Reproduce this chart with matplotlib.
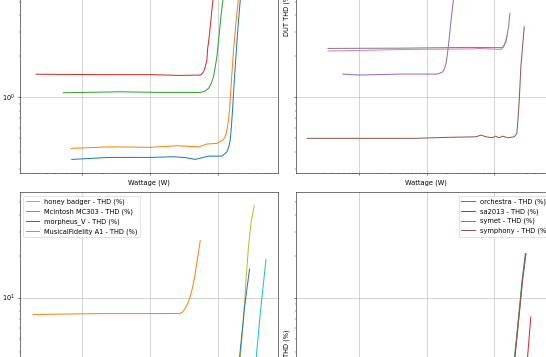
import matplotlib
matplotlib.use("Agg")
import matplotlib.pyplot as plt

# --- data (watts, THD %) ---
# top left (DUT THD)
tl_blue_w = [0.00697, 0.0257, 0.101, 0.223, 0.332, 0.468, 0.736, 1.162, 1.378, 1.466, 1.542, 1.607, 1.668, 1.786, 1.978, 2.168, 2.285]
tl_blue_thd = [0.350, 0.362, 0.362, 0.366, 0.361, 0.350, 0.370, 0.370, 0.398, 0.431, 0.485, 0.615, 0.807, 1.417, 2.95, 5.19, 6.36]
tl_orange_w = [0.00680, 0.0257, 0.101, 0.251, 0.524, 0.697, 0.979, 1.202, 1.279, 1.345, 1.432, 1.506, 1.596, 1.726, 1.892, 2.027, 2.13]
tl_orange_thd = [0.422, 0.433, 0.429, 0.441, 0.433, 0.454, 0.459, 0.485, 0.506, 0.544, 0.647, 0.807, 1.267, 2.23, 3.70, 5.19, 6.36]
tl_green_w = [0.00523, 0.0362, 0.1416, 0.555, 0.645, 0.736, 0.807, 0.873, 0.925, 0.979, 1.049, 1.123, 1.202, 1.257]
tl_green_thd = [1.081, 1.099, 1.088, 1.088, 1.107, 1.165, 1.263, 1.417, 1.67, 1.99, 2.79, 3.91, 5.19, 6.15]
tl_red_w = [0.00206, 0.0183, 0.101, 0.280, 0.555, 0.583, 0.621, 0.658, 0.697, 0.711, 0.753, 0.807, 0.855, 0.893]
tl_red_thd = [1.48, 1.47, 1.47, 1.45, 1.46, 1.48, 1.54, 1.68, 1.88, 2.23, 2.79, 3.91, 5.19, 6.15]

# top right (DUT THD)
tr_purple_w = [0.00574, 0.01014, 0.0396, 0.145, 0.172, 0.1845, 0.193, 0.2024, 0.211, 0.229, 0.248, 0.260]
tr_purple_thd = [1.483, 1.459, 1.483, 1.483, 1.54, 1.64, 1.78, 2.08, 2.49, 3.70, 5.19, 6.36]
tr_brown_w = [0.00171, 0.0689, 0.193, 0.535, 0.634, 0.751, 0.944, 1.035, 1.186, 1.327, 1.571, 1.974, 2.157, 2.248, 2.340, 2.471, 2.773]
tr_brown_thd = [0.500, 0.500, 0.508, 0.513, 0.528, 0.513, 0.505, 0.519, 0.505, 0.519, 0.505, 0.513, 0.544, 0.704, 0.955, 1.68, 3.30]
tr_pink_w = [0.00345, 0.0490, 0.477, 0.607, 1.251, 1.396, 1.545]
tr_pink_thd = [2.19, 2.25, 2.27, 2.29, 2.25, 2.38, 2.82]
tr_gray_w = [0.00345, 0.0399, 0.431, 1.327, 1.484, 1.626, 1.700]
tr_gray_thd = [2.29, 2.30, 2.33, 2.32, 2.56, 3.30, 4.15]

# bottom left (THD)
bl_names = ["honey badger - THD (%)", "Mcintosh MC303 - THD (%)",
            "morpheus_V - THD (%)", "MusicalFidelity A1 - THD (%)"]
bl_olive_w = [2.08, 2.168, 2.427, 2.636, 2.878, 3.126, 3.50]
bl_olive_thd = [2.93, 3.65, 6.83, 13.44, 23.6, 35.1, 47.1]
bl_cyan_w = [3.62, 3.74, 4.29, 5.21]
bl_cyan_thd = [2.93, 3.65, 7.65, 18.9]
bl_blue_w = [2.03, 2.118, 2.512, 2.978]
bl_blue_thd = [2.93, 3.65, 8.56, 16.1]
bl_orange_w = [0.00188, 0.0183, 0.101, 0.280, 0.305, 0.332, 0.362, 0.394, 0.430, 0.468, 0.509, 0.555]
bl_orange_thd = [7.52, 7.63, 7.63, 7.65, 7.82, 8.33, 9.03, 10.14, 11.95, 15.06, 19.5, 26.0]

# bottom right (THD)
br_names = ["orchestra - THD (%)", "sa2013 - THD (%)", "symet - THD (%)", "symphony - THD (%)"]
br_green_w = [1.90, 1.99, 2.31, 2.58, 2.88]
br_green_thd = [2.93, 3.65, 7.65, 13.44, 20.9]
br_red_w = [3.0, 3.10, 3.47]
br_red_thd = [2.93, 3.65, 7.22]
br_purple_w = [1.928, 2.014, 2.340, 2.618, 2.93]
br_purple_thd = [2.93, 3.65, 7.65, 13.44, 20.9]
br_brown_w = [1.928, 2.014, 2.340, 2.618, 2.93]
br_brown_thd = [2.93, 3.65, 7.65, 13.44, 20.9]

W, H, DPI = 546, 357, 48
fig = plt.figure(figsize=(W / DPI, H / DPI), dpi=DPI)


def add_px_axes(x0, y0, x1, y1, **kw):
    # pixel box measured from the top-left corner of the image
    return fig.add_axes([x0 / W, 1 - y1 / H, (x1 - x0) / W, (y1 - y0) / H], **kw)


ax_tl = add_px_axes(19.5, -143.8, 278, 173)
ax_tr = add_px_axes(296.3, -143.8, 554.8, 173, sharex=ax_tl, sharey=ax_tl)
ax_bl = add_px_axes(19.5, 192.3, 278, 494, sharex=ax_tl)
ax_br = add_px_axes(296.3, 192.3, 554.8, 494, sharex=ax_tl, sharey=ax_bl)

ax_tl.plot(tl_blue_w, tl_blue_thd, color="tab:blue")
ax_tl.plot(tl_orange_w, tl_orange_thd, color="tab:orange")
ax_tl.plot(tl_green_w, tl_green_thd, color="tab:green")
ax_tl.plot(tl_red_w, tl_red_thd, color="tab:red")

ax_tr.plot(tr_purple_w, tr_purple_thd, color="tab:purple")
ax_tr.plot(tr_brown_w, tr_brown_thd, color="tab:brown")
ax_tr.plot(tr_pink_w, tr_pink_thd, color="tab:pink")
ax_tr.plot(tr_gray_w, tr_gray_thd, color="tab:gray")

ax_bl.plot(bl_olive_w, bl_olive_thd, color="tab:olive", label=bl_names[0])
ax_bl.plot(bl_cyan_w, bl_cyan_thd, color="tab:cyan", label=bl_names[1])
ax_bl.plot(bl_blue_w, bl_blue_thd, color="tab:blue", label=bl_names[2])
ax_bl.plot(bl_orange_w, bl_orange_thd, color="tab:orange", label=bl_names[3])

ax_br.plot(br_green_w, br_green_thd, color="tab:green", label=br_names[0])
ax_br.plot(br_red_w, br_red_thd, color="tab:red", label=br_names[1])
ax_br.plot(br_purple_w, br_purple_thd, color="tab:purple", label=br_names[2])
ax_br.plot(br_brown_w, br_brown_thd, color="tab:brown", label=br_names[3])

for ax in [ax_tl, ax_tr, ax_bl, ax_br]:
    ax.set_xscale("log")
    ax.set_yscale("log")
    ax.grid(True, which="major")

ax_tl.set_xlim(10 ** -2.93, 10 ** 0.895)
ax_tl.set_ylim(0.278, 59.3)
ax_bl.set_ylim(0.368, 58.6)

# top row: no x tick labels, bottom-row labels sit off the crop
ax_tl.tick_params(labelbottom=False)
ax_tr.tick_params(labelbottom=False, labelleft=False)
ax_br.tick_params(labelleft=False)

ax_tl.set_xlabel("Wattage (W)")
ax_tr.set_xlabel("Wattage (W)")
ax_tr.set_ylabel("DUT THD (%)")
ax_br.set_ylabel("THD (%)")

ax_bl.legend(loc="upper left")
ax_br.legend(loc="upper right")

fig.savefig("out.png", dpi=DPI)
